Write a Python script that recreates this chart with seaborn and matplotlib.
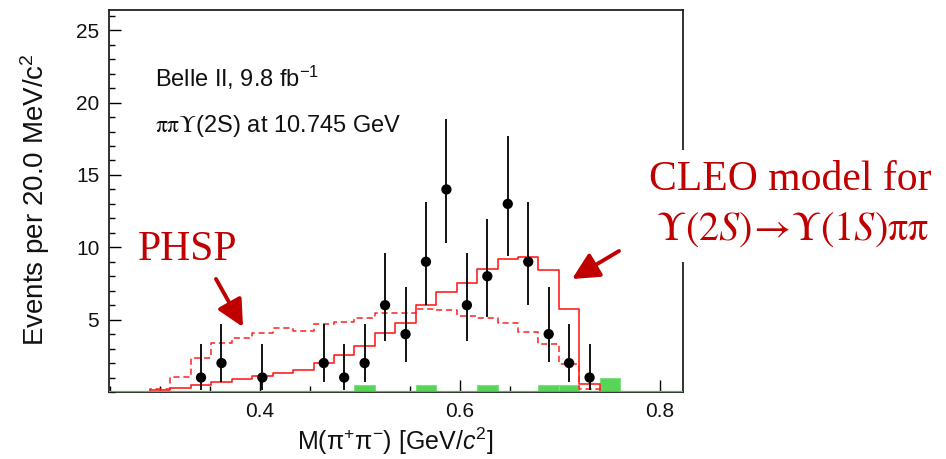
import numpy as np
import pandas as pd
import matplotlib
matplotlib.use("Agg")
import matplotlib.pyplot as plt
from matplotlib.patches import Rectangle, FancyArrowPatch
from matplotlib.ticker import MultipleLocator
import seaborn as sns

# ---------------- data ----------------
bin_lo = 0.249
bin_width = 0.02045
n_bins = 28

cleo_model = [0, 0, 0.12, 0.25, 0.48, 0.70, 0.88, 1.10, 1.30, 1.52, 2.03, 2.56, 3.20, 4.06,
              4.80, 6.00, 6.94, 7.50, 8.50, 9.20, 9.30, 8.45, 5.72, 0.55, 0, 0, 0, 0]
phsp_model = [0, 0, 0.22, 1.06, 2.33, 3.37, 3.71, 4.06, 4.40, 4.24, 4.68, 4.86, 5.14, 5.44,
              5.49, 5.75, 5.65, 5.26, 5.10, 4.80, 4.12, 3.30, 1.94, 0.19, 0, 0, 0, 0]
background = [0, 0, 0, 0, 0, 0, 0, 0, 0, 0, 0, 0, 0.5, 0, 0, 0.5, 0, 0, 0.5, 0, 0, 0.5, 0.5,
              0, 1.0, 0, 0, 0]

point_bins = [4, 5, 7, 10, 11, 12, 13, 14, 15, 16, 17, 18, 19, 20, 21, 22, 23]
point_counts = [1, 2, 1, 2, 1, 2, 6, 4, 9, 14, 6, 8, 13, 9, 4, 2, 1]
err_low_edge = [0.15, 0.72, 0.15, 0.72, 0.15, 0.72, 3.55, 2.05, 6.0, 10.28, 3.55, 5.2, 9.4,
                6.0, 2.05, 0.71, 0.15]
err_up_edge = [3.3, 4.68, 3.3, 4.68, 3.3, 4.68, 9.59, 7.24, 13.14, 18.88, 9.59, 11.94, 17.7,
               13.1, 7.24, 4.68, 3.3]

x_major_ticks = [0.4, 0.6, 0.8]
x_tick_labels = ["0.4", "0.6", "0.8"]
y_major_ticks = [5, 10, 15, 20, 25]

# ---------------- derived ----------------
edges = bin_lo + bin_width * np.arange(n_bins + 1)
centers = 0.5 * (edges[:-1] + edges[1:])
step_df = pd.DataFrame({
    "edge": edges,
    "cleo": list(cleo_model) + [cleo_model[-1]],
    "phsp": list(phsp_model) + [phsp_model[-1]],
})
bkg_df = pd.DataFrame({"x": centers, "bkg": background})
pts = pd.DataFrame({"x": centers[point_bins], "n": point_counts,
                    "lo": err_low_edge, "hi": err_up_edge})

sns.set_theme(style="white")
plt.rcParams["font.family"] = ["Liberation Sans", "DejaVu Sans"]
plt.rcParams["mathtext.fontset"] = "custom"
plt.rcParams["mathtext.rm"] = "Liberation Sans"
plt.rcParams["mathtext.it"] = "Liberation Sans:italic"
plt.rcParams["mathtext.bf"] = "Liberation Sans:bold"

fig = plt.figure(figsize=(9.46, 4.59), dpi=100)
ax = fig.add_axes([109 / 946, 1 - 392 / 459, 574 / 946, 382 / 459])

red = "#ff2020"
green = "#58d458"

# background (green)
ax.bar(bkg_df["x"], bkg_df["bkg"], width=bin_width, color=green, edgecolor="#7ee07e",
       linewidth=0.8, zorder=2)
# models
sns.lineplot(data=step_df, x="edge", y="phsp", drawstyle="steps-post", color=red,
             linewidth=1.1, linestyle=(0, (4, 2.5)), ax=ax, zorder=3)
sns.lineplot(data=step_df, x="edge", y="cleo", drawstyle="steps-post", color=red,
             linewidth=1.2, ax=ax, zorder=3)
ax.axhline(0, color="#33cc33", lw=1.6, zorder=4)

# data points
ax.vlines(pts["x"], pts["lo"], pts["hi"], color="black", lw=1.3, zorder=5)
sns.scatterplot(data=pts, x="x", y="n", color="black", s=55, edgecolor="none", ax=ax, zorder=6)

ax.set_xlim(0.249, 0.823)
ax.set_ylim(0, 26.4)
ax.set_xticks(x_major_ticks)
ax.set_xticklabels(x_tick_labels)
ax.xaxis.set_minor_locator(MultipleLocator(0.05))
ax.set_yticks(y_major_ticks)
ax.yaxis.set_minor_locator(MultipleLocator(1))
ax.tick_params(axis="both", which="major", direction="in", length=8.5, width=1.0,
               labelsize=15, pad=7, colors="black", labelcolor="#111111")
ax.tick_params(axis="both", which="minor", direction="in", length=4.3, width=1.0, colors="black")
ax.tick_params(top=False, right=False, bottom=True, left=True, which="both")
for s in ax.spines.values():
    s.set_color("#222222")
    s.set_linewidth(1.3)

ax.set_xlabel(r"M($\mathrm{\pi}^{+}\mathrm{\pi}^{-}$) [GeV/$c^{2}$]", fontsize=18,
              color="#111111")
ax.set_ylabel(r"Events per 20.0 MeV/c$^{2}$", fontsize=20, color="#111111")
ax.xaxis.set_label_coords(0.499, -0.088)
ax.yaxis.set_label_coords(-0.100, 0.505)
ax.grid(False)

ax.text(0.080, 0.798, r"Belle II, 9.8 fb$^{-1}$", transform=ax.transAxes, fontsize=17,
        color="#111111")
ax.text(0.080, 0.681, r"$\mathrm{\pi\pi\Upsilon}$(2S) at 10.745 GeV", transform=ax.transAxes,
        fontsize=17, color="#111111", math_fontfamily="stix")

# overlay annotations
dark_red = "#c00000"
fig.patches.append(Rectangle((630 / 946, 1 - 262 / 459), 316 / 946, 112 / 459,
                             transform=fig.transFigure, facecolor="white",
                             edgecolor="none", zorder=5))
fig.text(188 / 946, 1 - 260 / 459, "PHSP", ha="center", va="baseline", fontsize=30,
         family="Liberation Serif", color=dark_red, zorder=6)
fig.text(790 / 946, 1 - 190 / 459, "CLEO model for", ha="center", va="baseline",
         fontsize=30, family="Liberation Serif", color=dark_red, zorder=6)
fig.text(792 / 946, 1 - 240 / 459,
         r"$\mathrm{\Upsilon(2}S\mathrm{)}\!\rightarrow\!\mathrm{\Upsilon(1}S\mathrm{)\pi\pi}$",
         ha="center", va="baseline", fontsize=29, math_fontfamily="stix",
         color=dark_red, zorder=6)

arrow_kw = dict(arrowstyle="-|>,head_length=0.9,head_width=0.45", color=dark_red, lw=2.8,
                shrinkA=0, shrinkB=0, mutation_scale=18)
fig.add_artist(FancyArrowPatch((216 / 946, 1 - 279 / 459), (243 / 946, 1 - 327 / 459),
                               transform=fig.transFigure, zorder=7, **arrow_kw))
fig.add_artist(FancyArrowPatch((619 / 946, 1 - 251 / 459), (572 / 946, 1 - 279 / 459),
                               transform=fig.transFigure, zorder=7, **arrow_kw))

fig.savefig("out.png", dpi=100)
